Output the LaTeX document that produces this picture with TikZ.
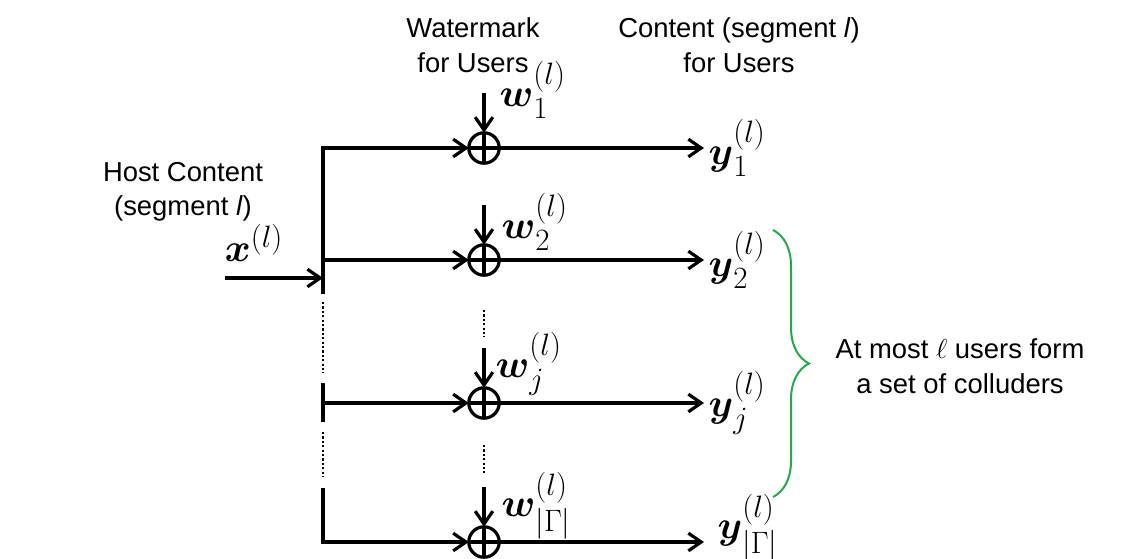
\RequirePackage{fix-cm}
\documentclass[tikz,border=0pt]{standalone}
\usepackage{amsmath}
\usepackage{fontspec}
\setmainfont{Liberation Sans}
\usetikzlibrary{arrows.meta,decorations.pathreplacing}

\definecolor{bracegreen}{RGB}{34,170,76}
\DeclareMathSizes{28}{28}{22}{17}

\tikzset{
  adder/.style={draw, circle, minimum size=7.6mm, inner sep=0pt, outer sep=0pt,
    path picture={\draw (path picture bounding box.north) -- (path picture bounding box.south)
      (path picture bounding box.west) -- (path picture bounding box.east);}},
  txt/.style={font=\fontsize{19.5}{24.5}\selectfont, align=center, inner sep=0pt},
  sym/.style={font=\fontsize{28}{32}\selectfont, inner sep=0pt},
  gap/.style={dash pattern=on 0.55mm off 0.55mm, line width=0.7mm},
  bus/.style={line cap=rect},
}

\begin{document}
\begin{tikzpicture}[x=0.25mm, y=-0.25mm, line width=0.8mm,
    >={Straight Barb[length=3.2mm,width=4.4mm]}]
  \useasboundingbox (0,0) rectangle (1138,559);

  % Headings
  \node[txt] (wmhead) at (473,45) {Watermark\\for Users};
  \node[txt] (cthead) at (739,45) {Content (segment \textit{l})\\for Users};
  \node[txt] (host) at (183,192) {Host Content\\(segment \textit{l})};
  \node[sym] (xin) at (254,243) {$\boldsymbol{x}^{(l)}$};

  % One branch per user: split point, adder, watermark, output
  \foreach \n/\y/\s/\o/\lx/\yo/\yx in {1/148/1/-58/498/0/707, 2/260/2/-38/500/0/707,
      j/403/j/-39/494/0/707, G/542/{|\Gamma|}/-36/500/-14/716} {
    \coordinate (b\n) at (323,\y);
    \coordinate (t\n) at (484,\y-55);
    \coordinate (o\n) at (704,\y);
    \node[adder] (s\n) at (484,\y) {};
    \node[sym, anchor=west] (w\n) at (\lx,\y+\o) {$\boldsymbol{w}_{\s}^{(l)}$};
    \node[sym, anchor=west] (y\n) at (\yx,\y+\yo) {$\boldsymbol{y}_{\s}^{(l)}$};
    \draw[->] (b\n) -- (s\n);
    \draw[->] (t\n) -- (s\n);
    \draw[->] (s\n) -- (o\n);
  }

  % Input and distribution bus
  \coordinate (in) at (225,278);
  \coordinate (bin) at (323,278);
  \draw[->] (in) -- (bin);
  \draw[bus] (b1) -- (323,292);
  \draw[gap] (323,302) -- (323,373);
  \draw[bus] (323,385) -- (323,420);
  \draw[gap] (323,432) -- (323,477);
  \draw[bus] (323,490) -- (bG);

  % Skipped users
  \draw[gap] (484,310) -- (484,337);
  \draw[gap] (484,445) -- (484,473);

  % Colluders
  \draw[bracegreen, line width=0.5mm, decorate, decoration={brace, amplitude=9mm}]
    (773,230) -- (773,497);
  \node[txt] (colluders) at (960,366) {At most $\ell$ users form\\a set of colluders};
\end{tikzpicture}
\end{document}
